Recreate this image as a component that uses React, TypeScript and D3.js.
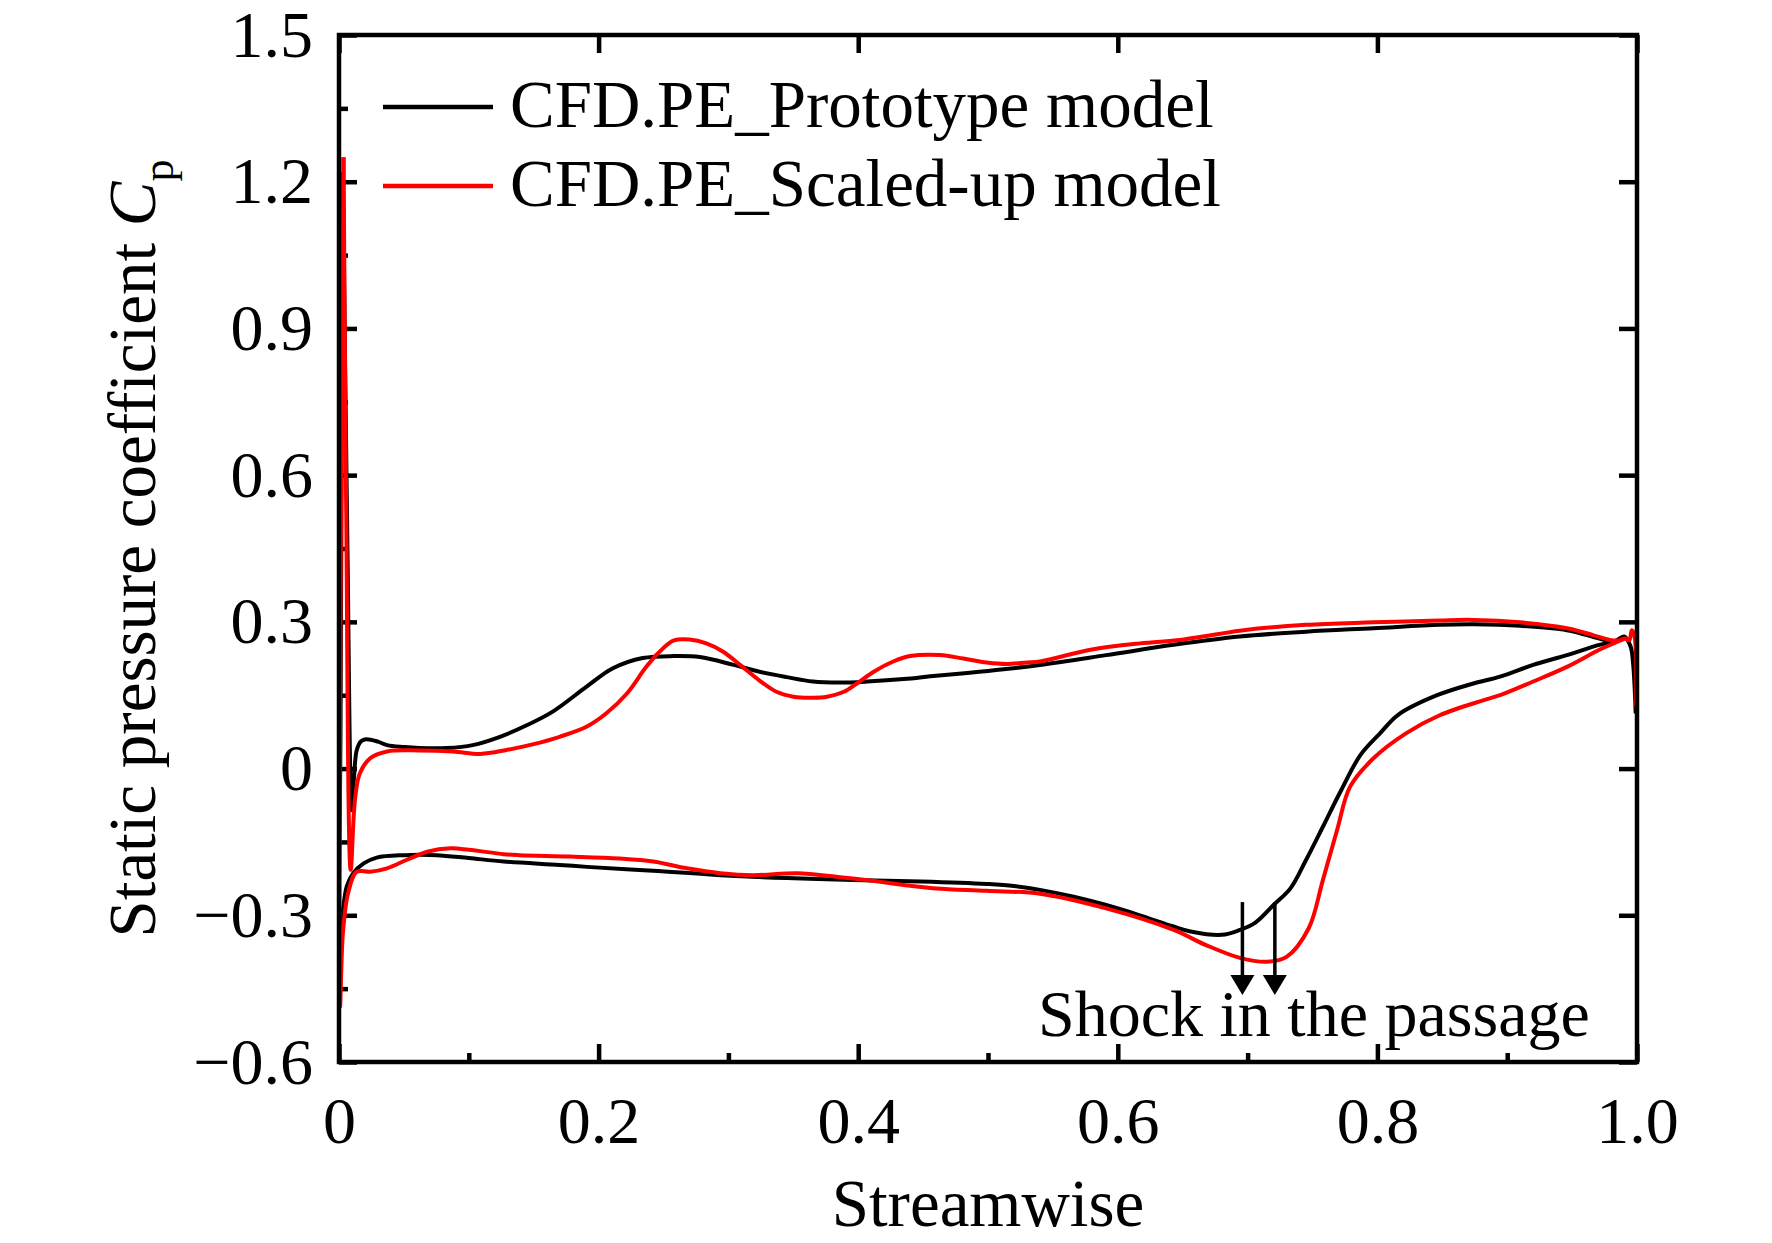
import { useEffect, useRef } from 'react';
import * as d3 from 'd3';

type Pt = [number, number];

// Streamwise position vs. static pressure coefficient
const protoPressureSide: Pt[] = [
  [0.003, 1.22], [0.0065, 0.45], [0.0098, -0.085], [0.0115, -0.02], [0.0137, 0.038], [0.017, 0.056],
  [0.021, 0.06], [0.03, 0.055], [0.037, 0.048], [0.05, 0.044], [0.062, 0.042], [0.083, 0.042],
  [0.103, 0.048], [0.124, 0.065], [0.145, 0.089], [0.165, 0.117], [0.191, 0.168], [0.211, 0.205],
  [0.234, 0.226], [0.258, 0.23], [0.278, 0.228], [0.304, 0.212], [0.324, 0.198], [0.345, 0.187],
  [0.365, 0.178], [0.386, 0.176], [0.407, 0.178], [0.435, 0.183], [0.46, 0.19], [0.486, 0.196],
  [0.512, 0.203], [0.54, 0.212], [0.591, 0.232], [0.643, 0.253], [0.694, 0.27], [0.745, 0.28],
  [0.797, 0.287], [0.848, 0.294], [0.874, 0.295], [0.91, 0.292], [0.946, 0.283], [0.971, 0.266],
  [0.982, 0.259], [0.99, 0.27], [0.995, 0.25], [0.997, 0.215], [0.999, 0.113],
];

const protoSuctionSide: Pt[] = [
  [0.003, 1.22], [0.0012, 0.1], [0.0008, -0.33], [0.003, -0.29], [0.006, -0.241], [0.011, -0.214],
  [0.019, -0.194], [0.029, -0.182], [0.05, -0.177], [0.075, -0.177], [0.1, -0.183], [0.127, -0.19],
  [0.17, -0.197], [0.191, -0.201], [0.242, -0.209], [0.294, -0.218], [0.345, -0.224], [0.396, -0.228],
  [0.448, -0.231], [0.499, -0.236], [0.52, -0.24], [0.54, -0.248], [0.566, -0.262], [0.591, -0.279],
  [0.617, -0.3], [0.643, -0.323], [0.656, -0.333], [0.68, -0.34], [0.694, -0.33], [0.706, -0.315],
  [0.72, -0.279], [0.733, -0.245], [0.745, -0.187], [0.758, -0.119], [0.771, -0.05], [0.787, 0.028],
  [0.802, 0.072], [0.816, 0.11], [0.846, 0.15], [0.874, 0.174], [0.8945, 0.188], [0.92, 0.212],
  [0.946, 0.232], [0.971, 0.253], [0.982, 0.259], [0.99, 0.268],
];

const scaledPressureSide: Pt[] = [
  [0.0035, 1.25], [0.0055, 0.55], [0.009, -0.207], [0.0123, -0.064], [0.016, -0.01], [0.024, 0.021],
  [0.037, 0.035], [0.062, 0.037], [0.088, 0.035], [0.109, 0.03], [0.129, 0.038], [0.15, 0.05],
  [0.17, 0.065], [0.191, 0.086], [0.206, 0.113], [0.222, 0.154], [0.237, 0.209], [0.247, 0.239],
  [0.258, 0.262], [0.27, 0.264], [0.283, 0.256], [0.296, 0.239], [0.309, 0.212], [0.324, 0.18],
  [0.337, 0.157], [0.35, 0.147], [0.365, 0.145], [0.376, 0.147], [0.389, 0.157], [0.399, 0.174],
  [0.412, 0.198], [0.427, 0.219], [0.44, 0.23], [0.463, 0.232], [0.481, 0.225], [0.499, 0.217],
  [0.514, 0.214], [0.53, 0.217], [0.54, 0.219], [0.579, 0.243], [0.617, 0.256], [0.648, 0.263],
  [0.668, 0.271], [0.694, 0.282], [0.745, 0.294], [0.797, 0.299], [0.848, 0.303], [0.874, 0.304],
  [0.91, 0.299], [0.946, 0.287], [0.966, 0.273], [0.979, 0.263], [0.986, 0.262], [0.991, 0.266],
  [0.994, 0.262], [0.996, 0.283], [0.998, 0.272], [0.999, 0.127],
];

const scaledSuctionSide: Pt[] = [
  [0.0035, 1.25], [0.0015, 0.5], [0.0008, -0.487], [0.003, -0.337], [0.007, -0.255], [0.0136, -0.211],
  [0.024, -0.211], [0.037, -0.204], [0.052, -0.187], [0.068, -0.17], [0.086, -0.163], [0.1, -0.166],
  [0.127, -0.175], [0.139, -0.177], [0.178, -0.18], [0.216, -0.184], [0.242, -0.19], [0.268, -0.204],
  [0.294, -0.214], [0.319, -0.218], [0.353, -0.214], [0.383, -0.221], [0.409, -0.229], [0.435, -0.238],
  [0.46, -0.245], [0.499, -0.25], [0.54, -0.256], [0.591, -0.286], [0.643, -0.33], [0.668, -0.361],
  [0.694, -0.387], [0.715, -0.395], [0.73, -0.385], [0.747, -0.327], [0.758, -0.228], [0.769, -0.125],
  [0.779, -0.037], [0.797, 0.021], [0.822, 0.072], [0.848, 0.109], [0.882, 0.14], [0.8945, 0.15],
  [0.92, 0.178], [0.946, 0.208], [0.971, 0.243], [0.982, 0.256], [0.99, 0.265],
];

const seriesNames = ['CFD.PE_Prototype model', 'CFD.PE_Scaled-up model'];
const seriesColors = ['#000000', '#ff0000'];

const xTicks = [0, 0.2, 0.4, 0.6, 0.8, 1.0];
const xTickLabels = ['0', '0.2', '0.4', '0.6', '0.8', '1.0'];
const xMinorTicks = [0.1, 0.3, 0.5, 0.7, 0.9];
const yTicks = [-0.6, -0.3, 0, 0.3, 0.6, 0.9, 1.2, 1.5];
const yTickLabels = ['\u22120.6', '\u22120.3', '0', '0.3', '0.6', '0.9', '1.2', '1.5'];
const yMinorTicks = [-0.45, -0.15, 0.15, 0.45, 0.75, 1.05, 1.35];

// shock arrows: x position, start and tip Cp
const shockArrowX = [0.696, 0.721];
const shockArrowCp: Pt = [-0.273, -0.463];
const shockLabel = 'Shock in the passage';

const FONT = '"Liberation Serif", "Times New Roman", serif';

export default function App() {
  const svgRef = useRef<SVGSVGElement>(null);

  useEffect(() => {
    if (!svgRef.current) return;
    const svg = d3.select(svgRef.current);
    svg.selectAll('*').remove();

    const width = 1772;
    const height = 1243;
    const margin = { top: 35, right: 135, bottom: 181, left: 339 };
    const iw = width - margin.left - margin.right;
    const ih = height - margin.top - margin.bottom;

    const x = d3.scaleLinear().domain([0, 1]).range([0, iw]);
    const y = d3.scaleLinear().domain([-0.6, 1.5]).range([ih, 0]);

    svg.attr('width', width).attr('height', height).attr('viewBox', `0 0 ${width} ${height}`);
    svg.append('rect').attr('width', width).attr('height', height).attr('fill', '#fff');

    const g = svg.append('g').attr('transform', `translate(${margin.left},${margin.top})`);

    const axisW = 4.5;
    const major = 18;
    const minor = 9;

    // minor ticks (left + bottom only)
    g.append('g')
      .attr('transform', `translate(0,${ih})`)
      .call(d3.axisBottom(x).tickValues(xMinorTicks).tickSize(-minor).tickSizeOuter(0).tickFormat(() => ''))
      .call((a) => a.select('.domain').remove())
      .call((a) => a.selectAll('line').attr('stroke', '#000').attr('stroke-width', axisW));
    g.append('g')
      .call(d3.axisLeft(y).tickValues(yMinorTicks).tickSize(-minor).tickSizeOuter(0).tickFormat(() => ''))
      .call((a) => a.select('.domain').remove())
      .call((a) => a.selectAll('line').attr('stroke', '#000').attr('stroke-width', axisW));

    // major ticks + labels
    const xAxis = g.append('g')
      .attr('transform', `translate(0,${ih})`)
      .call(d3.axisBottom(x).tickValues(xTicks).tickSize(-major).tickSizeOuter(0).tickPadding(34)
        .tickFormat((_, i) => xTickLabels[i]));
    const yAxis = g.append('g')
      .call(d3.axisLeft(y).tickValues(yTicks).tickSize(-major).tickSizeOuter(0).tickPadding(26)
        .tickFormat((_, i) => yTickLabels[i]));
    // mirrored ticks on top and right
    const topAxis = g.append('g')
      .call(d3.axisTop(x).tickValues(xTicks).tickSize(-major).tickSizeOuter(0).tickFormat(() => ''));
    const rightAxis = g.append('g')
      .attr('transform', `translate(${iw},0)`)
      .call(d3.axisRight(y).tickValues(yTicks).tickSize(-major).tickSizeOuter(0).tickFormat(() => ''));

    [xAxis, yAxis, topAxis, rightAxis].forEach((a) => {
      a.select('.domain').remove();
      a.selectAll('line').attr('stroke', '#000').attr('stroke-width', axisW);
      a.selectAll('text')
        .attr('fill', '#000')
        .attr('font-family', FONT)
        .attr('font-size', 66);
    });

    // curves
    const line = d3.line<Pt>()
      .x((d) => x(d[0]))
      .y((d) => y(d[1]))
      .curve(d3.curveCatmullRom.alpha(0.5));

    const curves: [Pt[], number][] = [
      [protoPressureSide, 0],
      [protoSuctionSide, 0],
      [scaledPressureSide, 1],
      [scaledSuctionSide, 1],
    ];
    curves.forEach(([data, s]) => {
      g.append('path')
        .datum(data)
        .attr('d', line)
        .attr('fill', 'none')
        .attr('stroke', seriesColors[s])
        .attr('stroke-width', 4)
        .attr('stroke-linejoin', 'round');
    });

    // frame
    g.append('rect')
      .attr('width', iw)
      .attr('height', ih)
      .attr('fill', 'none')
      .attr('stroke', '#000')
      .attr('stroke-width', axisW);

    // shock arrows
    shockArrowX.forEach((ax) => {
      const px = x(ax);
      const y0 = y(shockArrowCp[0]);
      const y1 = y(shockArrowCp[1]);
      g.append('line')
        .attr('x1', px).attr('x2', px)
        .attr('y1', y0).attr('y2', y1 - 18)
        .attr('stroke', '#000')
        .attr('stroke-width', 3.5);
      g.append('path')
        .attr('d', `M${px - 12},${y1 - 20}L${px + 12},${y1 - 20}L${px},${y1}Z`)
        .attr('fill', '#000');
    });

    g.append('text')
      .attr('x', 1038 - margin.left)
      .attr('y', 1036 - margin.top)
      .attr('font-family', FONT)
      .attr('font-size', 66)
      .attr('fill', '#000')
      .text(shockLabel);

    // legend
    seriesNames.forEach((name, i) => {
      const ly = 107 + i * 79;
      svg.append('line')
        .attr('x1', 383).attr('x2', 493)
        .attr('y1', ly).attr('y2', ly)
        .attr('stroke', seriesColors[i])
        .attr('stroke-width', 4.5);
      svg.append('text')
        .attr('x', 510)
        .attr('y', ly + 20)
        .attr('font-family', FONT)
        .attr('font-size', 67)
        .attr('fill', '#000')
        .text(name);
    });

    // axis titles
    svg.append('text')
      .attr('x', margin.left + iw / 2)
      .attr('y', 1226)
      .attr('text-anchor', 'middle')
      .attr('font-family', FONT)
      .attr('font-size', 67)
      .attr('fill', '#000')
      .text('Streamwise');

    const yt = svg.append('text')
      .attr('transform', `translate(155,${margin.top + ih / 2}) rotate(-90)`)
      .attr('text-anchor', 'middle')
      .attr('font-family', FONT)
      .attr('font-size', 67)
      .attr('fill', '#000');
    yt.append('tspan').text('Static pressure coefficient ');
    yt.append('tspan').attr('font-style', 'italic').text('C');
    yt.append('tspan').attr('font-size', 44).attr('dy', 18).text('p');
  }, []);

  return (
    <svg
      ref={svgRef}
      style={{ position: 'absolute', left: 0, top: 0, display: 'block' }}
    />
  );
}
